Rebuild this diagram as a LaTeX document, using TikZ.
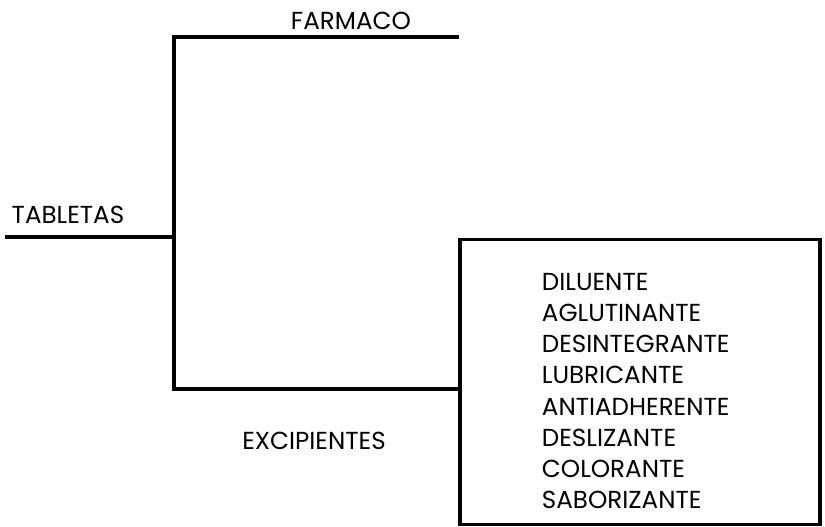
\documentclass[tikz,border=0pt]{standalone}
\usepackage{fontspec}
\setmainfont{Poppins}
\usepackage{tikz}

\begin{document}
\begin{tikzpicture}[x=0.02cm,y=-0.02cm,line width=2.2pt,line join=miter]
    \tikzstyle{every node}=[inner sep=0pt,font=\fontsize{14}{17.8}\selectfont];
    \tikzstyle{caja}=[draw,minimum width=7.2cm,minimum height=5.7cm];

    \useasboundingbox (0,0) rectangle (825,527);

    \node (tab) at (68,215) {TABLETAS};
    \node (farm) at (351,21) {FARMACO};
    \node (exc) at (314,441) {EXCIPIENTES};

    \node[caja] (lista) at (640,382) {};
    \node (items) [anchor=west,align=left] at (540,391) {DILUENTE\\AGLUTINANTE\\DESINTEGRANTE\\LUBRICANTE\\ANTIADHERENTE\\DESLIZANTE\\COLORANTE\\SABORIZANTE};

    \coordinate (t0) at (5,237);
    \coordinate (j) at (174,237);
    \coordinate (jt) at (174,37);
    \coordinate (jb) at (174,389);
    \coordinate (ft) at (459,37);

    \draw (t0) -- (j);
    \draw (ft) -- (jt) -- (jb) -- (jb -| lista.west);

\end{tikzpicture}
\end{document}
